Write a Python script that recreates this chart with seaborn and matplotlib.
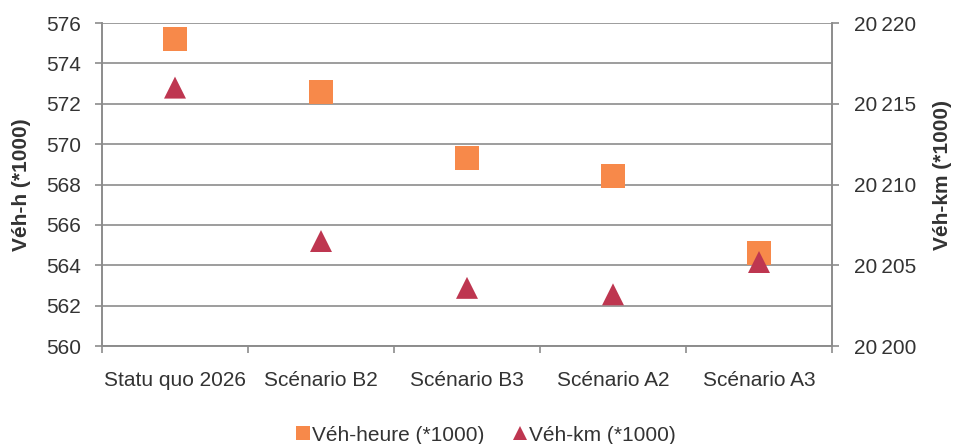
import matplotlib
matplotlib.use("Agg")
import matplotlib.pyplot as plt
import seaborn as sns
import pandas as pd
from matplotlib.lines import Line2D
from matplotlib.ticker import FuncFormatter, FixedLocator

scenarios = ["Statu quo 2026", "Scénario B2", "Scénario B3", "Scénario A2", "Scénario A3"]
veh_heure = [575.2, 572.6, 569.3, 568.4, 564.6]
veh_km = [20216.0, 20206.5, 20203.6, 20203.2, 20205.2]

label_h = "Véh-heure (*1000)"
label_km = "Véh-km (*1000)"
c_sq = "#F7894A"
c_tri = "#BE3650"
grid_c = "#8C8C8C"
text_c = "#333333"

sns.set_theme(style="white")
plt.rcParams["font.family"] = ["Liberation Sans", "DejaVu Sans"]

df = pd.DataFrame({"scenario": scenarios, "h": veh_heure, "km": veh_km})

fig = plt.figure(figsize=(9.54, 4.44), dpi=100)
ax_left, ax_w = 102 / 954, 730 / 954
ax = fig.add_axes([ax_left, 1 - 346 / 444, ax_w, 323 / 444])
ax2 = ax.twinx()

sns.scatterplot(data=df, x="scenario", y="h", marker="s", s=300, color=c_sq,
                edgecolor="none", ax=ax, zorder=3, legend=False)
sns.scatterplot(data=df, x="scenario", y="km", marker="^", s=250, color=c_tri,
                edgecolor="none", ax=ax2, zorder=4, legend=False)

ax.set_xlim(-0.5, len(scenarios) - 0.5)
ax.set_ylim(560, 576)
ax.set_yticks(range(560, 577, 2))
ax2.set_ylim(20200, 20220)
ax2.set_yticks(range(20200, 20221, 5))
ax2.yaxis.set_major_formatter(FuncFormatter(lambda v, p: f"{int(v):,}".replace(",", "\u2009")))

ax.yaxis.grid(True, color=grid_c, linewidth=1.2)
ax.set_axisbelow(True)
ax2.grid(False)

for a in (ax, ax2):
    a.spines["top"].set_visible(False)
    for side in ("left", "right", "bottom"):
        a.spines[side].set_color(grid_c)
        a.spines[side].set_linewidth(1.2)

ax.xaxis.set_minor_locator(FixedLocator([i - 0.5 for i in range(len(scenarios) + 1)]))
ax.tick_params(axis="x", which="major", length=0, pad=18, labelsize=15, labelcolor=text_c)
ax.tick_params(axis="x", which="minor", length=5, color=grid_c, width=1.2, bottom=True)
ax.tick_params(axis="y", length=5, color=grid_c, width=1.2, left=True, pad=10,
               labelsize=15, labelcolor=text_c)
ax2.tick_params(axis="y", length=5, color=grid_c, width=1.2, right=True, pad=11,
                labelsize=15, labelcolor=text_c)

ax.set_xlabel("")
ax.set_ylabel("Véh-h (*1000)", fontsize=15, fontweight="bold", color=text_c,
              va="center", ha="center")
ax2.set_ylabel("Véh-km (*1000)", fontsize=15, fontweight="bold", color=text_c,
               rotation=90, va="center", ha="center")
ax.yaxis.set_label_coords((22 - 102) / 730, 0.5)
ax2.yaxis.set_label_coords((943 - 102) / 730, 0.53)

handles = [
    Line2D([], [], linestyle="none", marker="s", markersize=10, color=c_sq, markeredgewidth=0),
    Line2D([], [], linestyle="none", marker="^", markersize=10, color=c_tri, markeredgewidth=0),
]
fig.legend(handles, [label_h, label_km], loc="center",
           bbox_to_anchor=(0.5 + 8 / 954, 1 - 435 / 444),
           ncol=2, frameon=False, fontsize=15, handletextpad=0.05, columnspacing=1.3,
           handlelength=0.8, labelcolor=text_c, borderpad=0)

fig.savefig("out.png", dpi=100, facecolor="white")
